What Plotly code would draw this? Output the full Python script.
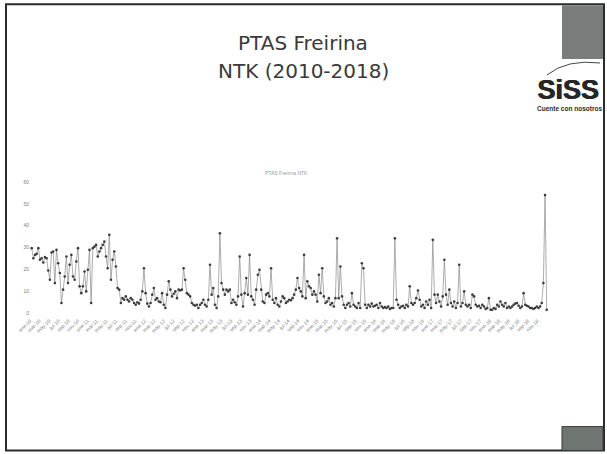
import plotly.graph_objects as go
import pandas as pd

# NTK (mg/L) measurements at PTAS Freirina, in sampling order 2010-2018
ntk_part1 = [
    29.7, 25.1, 26.6, 27.1, 29.7, 24.4, 25.1, 23.1, 25.6, 25.1, 19.5, 15.2, 27.7, 28.2,
    13.7, 28.9, 22.8, 18.3, 4.6, 10.7, 16.7, 25.9, 13.7, 22.1, 26.6, 16.7, 15.2, 23.6,
    29.7, 12.2, 9.1, 12.2, 19.0, 9.9, 19.8, 28.9, 4.6, 29.7, 30.4, 31.2, 25.9, 28.2,
    29.7, 31.2, 32.7, 25.9, 20.5, 35.8, 15.2, 24.4, 28.2, 21.3, 11.4, 10.7, 4.6, 6.8,
    6.1, 7.6, 6.1, 5.3, 6.8, 6.1, 4.6, 3.8, 4.9, 4.3, 6.1, 9.9, 20.5, 9.1, 4.3, 3.0,
    4.6, 8.4, 11.4, 6.1, 6.8, 5.3, 4.9, 9.1, 3.8, 2.3, 8.4, 14.5, 10.7, 7.6, 8.8, 9.9,
    6.8, 10.7, 10.3, 10.7, 20.5, 15.2, 9.1, 8.4, 7.6, 4.6, 3.8, 3.3, 3.8, 2.3, 3.8, 4.6,
    6.1, 3.8, 3.0, 6.1, 22.1, 8.4, 11.4, 3.8, 2.3, 7.6, 36.5, 13.7, 10.7, 8.4, 10.7, 9.9,
    10.7, 4.6, 6.1, 4.9, 3.8, 7.6, 25.9, 8.4, 3.0, 9.1, 16.0, 8.4, 26.6, 7.6, 6.1, 3.8,
    10.7, 17.5, 19.8, 10.7, 5.3, 4.6, 8.4, 9.1, 7.6, 20.5, 6.1, 4.6, 6.8, 3.8, 3.0, 5.3,
    7.6, 6.8, 4.6, 5.3, 6.1, 5.8, 6.8,
]
ntk_part2 = [
    8.4, 10.7, 16.0, 11.4, 9.9, 7.6, 26.6, 6.8, 14.5, 12.2, 11.4, 8.4, 9.9, 8.4, 5.3,
    17.5, 9.1, 20.5, 7.6, 4.6, 5.3, 6.8, 3.8, 4.6, 3.0, 6.8, 34.2, 6.8, 21.3, 7.6, 3.8,
    2.3, 3.8, 4.6, 3.0, 9.1, 3.8, 3.0, 2.3, 4.6, 2.3, 22.8, 20.5, 3.8, 2.3, 3.8, 3.0,
    4.3, 3.0, 3.3, 3.8, 2.3, 4.6, 3.0, 2.3, 2.7, 2.3, 3.0, 1.8, 2.3, 2.3, 34.2, 6.1, 3.8,
    2.3, 3.0, 3.3, 2.3, 3.8, 3.0, 12.2, 4.6, 3.8, 4.6, 6.8, 10.3, 6.1, 3.0, 3.8, 2.3,
    5.3, 3.8, 6.1, 2.3, 33.5, 8.4, 4.6, 8.4, 5.3, 3.0, 7.6, 24.4, 8.4, 3.8, 10.7, 4.6,
    3.0, 5.3, 2.3, 4.6, 22.1, 3.0, 4.6, 9.9, 3.8, 3.0, 3.8, 2.3, 8.4, 7.6, 3.8, 3.0, 3.3,
    2.3, 3.8, 3.0, 1.8, 2.3, 6.8, 1.5, 1.5, 2.3, 1.8, 3.8, 3.0, 5.3, 3.8, 3.0, 4.6, 2.3,
    3.0, 2.3, 3.0, 3.8, 4.3, 4.6, 3.3, 2.3, 3.0, 9.1, 3.8, 3.3, 3.0, 2.3, 2.3, 1.8, 2.3,
    3.0, 2.3, 3.0, 4.6, 13.7, 54.0, 1.5,
]
ntk = ntk_part1 + ntk_part2

first_sample = "2010-01-12"
last_sample = "2018-12-30"
sample_dates = pd.date_range(first_sample, last_sample, periods=len(ntk))

# bimonthly axis labels (Spanish month abbreviations)
tick_months = ["ene", "mar", "may", "jul", "sep", "nov"]
tick_years = [2010, 2011, 2012, 2013, 2014, 2015, 2016, 2017, 2018]
y_ticks = [0, 10, 20, 30, 40, 50, 60]

tick_vals, tick_text = [], []
for yr in tick_years:
    for i, m in enumerate(tick_months):
        tick_vals.append(f"{yr}-{2 * i + 1:02d}-01")
        tick_text.append(f"{m}-{str(yr)[2:]}")

W, H = 607, 454
L, R, T, B = 30, 550, 181.5, 313


def fx(px):
    return (px - L) / (R - L)


def fy(py):
    return (B - py) / (B - T)


fig = go.Figure()
fig.add_trace(go.Scatter(
    x=sample_dates, y=ntk, mode="lines+markers",
    line=dict(color="#8a8a8a", width=0.7),
    marker=dict(size=2.6, color="#3c3c3c"),
    hoverinfo="x+y", showlegend=False,
))

shapes = [
    # slide frame
    dict(type="rect", xref="paper", yref="paper", x0=fx(6), x1=fx(604), y0=fy(451), y1=fy(3),
         line=dict(color="#2b2b2b", width=2), fillcolor="rgba(0,0,0,0)", layer="below"),
    # corner blocks
    dict(type="rect", xref="paper", yref="paper", x0=fx(562), x1=fx(603), y0=fy(58), y1=fy(4),
         line=dict(width=0), fillcolor="#7b7d7c", layer="below"),
    dict(type="rect", xref="paper", yref="paper", x0=fx(562), x1=fx(603), y0=fy(451), y1=fy(427),
         line=dict(color="#3a3a3a", width=1), fillcolor="#6f7672", layer="below"),
    # logo swoosh
    dict(type="path", xref="paper", yref="paper",
         path=f"M {fx(547)},{fy(74)} Q {fx(567)},{fy(58)} {fx(600)},{fy(62)}",
         line=dict(color="#444444", width=1)),
]

logo_font = dict(family="Liberation Sans", size=27, color="#262626")
annotations = [
    dict(text="PTAS Freirina", x=fx(303), y=fy(42), xref="paper", yref="paper",
         showarrow=False, xanchor="center", yanchor="middle",
         font=dict(family="DejaVu Sans", size=20, color="#3a3a3a")),
    dict(text="NTK (2010-2018)", x=fx(303), y=fy(70), xref="paper", yref="paper",
         showarrow=False, xanchor="center", yanchor="middle",
         font=dict(family="DejaVu Sans", size=20, color="#3a3a3a")),
    # heavy logo lettering: two passes, one pixel apart
    dict(text="<b>SiSS</b>", x=fx(568), y=fy(89), xref="paper", yref="paper",
         showarrow=False, xanchor="center", yanchor="middle", font=logo_font),
    dict(text="<b>SiSS</b>", x=fx(569), y=fy(89), xref="paper", yref="paper",
         showarrow=False, xanchor="center", yanchor="middle", font=logo_font),
    dict(text="<b>Cuente con nosotros</b>", x=fx(569), y=fy(108), xref="paper", yref="paper",
         showarrow=False, xanchor="center", yanchor="middle",
         font=dict(family="Liberation Sans", size=6.5, color="#2a2a2a")),
    dict(text="PTAS Freirina NTK", x=fx(286), y=fy(172), xref="paper", yref="paper",
         showarrow=False, xanchor="center", yanchor="middle",
         font=dict(family="Liberation Sans", size=5, color="#9a9a9a")),
]

fig.update_layout(
    width=W, height=H,
    margin=dict(l=L, r=W - R, t=T, b=H - B, pad=0),
    paper_bgcolor="white", plot_bgcolor="white",
    shapes=shapes, annotations=annotations,
    xaxis=dict(type="date", range=["2010-01-01", "2019-01-20"],
               tickvals=tick_vals, ticktext=tick_text, tickangle=-45,
               tickfont=dict(family="Liberation Sans", size=5, color="#808080"),
               ticklabelstandoff=3,
               showgrid=False, zeroline=False, showline=False, ticks=""),
    yaxis=dict(range=[0, 60], tickvals=y_ticks,
               tickfont=dict(family="Liberation Sans", size=5, color="#808080"),
               showgrid=False, zeroline=False, showline=False, ticks=""),
)

fig.write_html("out.html")
